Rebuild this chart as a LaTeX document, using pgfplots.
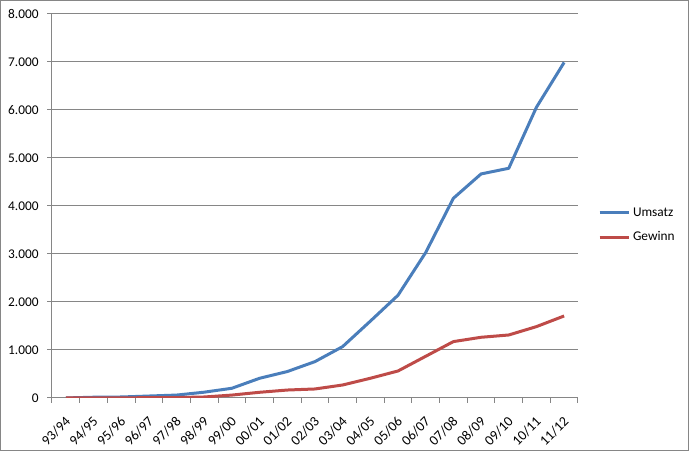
\documentclass[border=0pt]{standalone}
\usepackage{pgfplots}
\pgfplotsset{compat=1.18}
\usepackage{fontspec}
\setmainfont{Carlito}
\definecolor{umsatz}{HTML}{4A7EBB}
\definecolor{gewinn}{HTML}{BE4B48}
\definecolor{gridc}{HTML}{868686}
\begin{document}
\begin{tikzpicture}
\begin{axis}[
  scale only axis,
  width=394.5pt, height=288pt,
  xmin=-0.5, xmax=18.5,
  ymin=0, ymax=8000,
  axis lines*=left,
  axis line style={gridc, line width=0.75pt, -},
  ytick={0,1000,2000,3000,4000,5000,6000,7000,8000},
  yticklabels={0,1.000,2.000,3.000,4.000,5.000,6.000,7.000,8.000},
  xtick={-0.5,0.5,...,18.5},
  xticklabels={},
  extra x ticks={0,...,18},
  extra x tick labels={93/94,94/95,95/96,96/97,97/98,98/99,99/00,00/01,01/02,02/03,03/04,04/05,05/06,06/07,07/08,08/09,09/10,10/11,11/12},
  extra x tick style={major tick length=0pt, tick style={draw=none}},
  tick align=outside,
  major tick length=3.5pt,
  tick style={gridc, line width=0.75pt},
  ymajorgrids,
  major grid style={gridc, line width=0.75pt},
  tick label style={font=\fontsize{10}{12}\selectfont, text=black},
  x tick label style={font=\fontsize{10.5}{12}\selectfont, xshift=4pt, yshift=-13.5pt, rotate=45, anchor=east},
  y tick label style={xshift=-3pt},
  legend style={draw=none, fill=none, at={(rel axis cs:1.03,0.45)}, anchor=west,
    font=\fontsize{10}{12}\selectfont, row sep=6pt},
  legend cell align=left,
  legend image code/.code={\draw[#1] (0pt,0pt) -- (22pt,0pt);},
]
\addplot[umsatz, line width=2.25pt, line join=round] coordinates {
(0,0) (1,15) (2,20) (3,40) (4,60) (5,120) (6,202) (7,410) (8,550) (9,757)
(10,1070) (11,1600) (12,2140) (13,3030) (14,4160) (15,4667) (16,4785) (17,6056) (18,6990)};
\addlegendentry{Umsatz}
\addplot[gewinn, line width=2.25pt, line join=round] coordinates {
(0,0) (1,2) (2,3) (3,5) (4,8) (5,20) (6,60) (7,118) (8,165) (9,187)
(10,270) (11,410) (12,562) (13,868) (14,1174) (15,1264) (16,1312) (17,1486) (18,1708)};
\addlegendentry{Gewinn}
\end{axis}
\draw[gridc, line width=0.75pt] ([xshift=-38.6pt,yshift=-39.4pt]current axis.south west) rectangle ([xshift=82.9pt,yshift=10.1pt]current axis.north east);
\end{tikzpicture}
\end{document}
